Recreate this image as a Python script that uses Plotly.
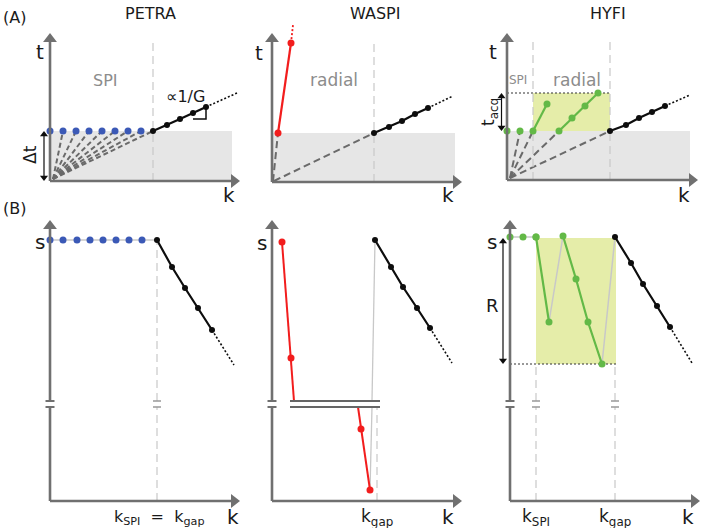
import plotly.graph_objects as go

# ---------------- data (schematic units: k horizontal, t / s vertical) ----------------
# (A) PETRA  t vs k
petra_spi_k = [0, 1.3, 2.6, 3.9, 5.2, 6.5, 7.8, 9.1]
petra_spi_t = [5.0, 5.0, 5.0, 5.0, 5.0, 5.0, 5.0, 5.0]
petra_rad_k = [10.3, 11.7, 13.0, 14.3, 15.6]
petra_rad_t = [5.0, 5.6, 6.2, 6.8, 7.4]
petra_tail_k = [15.6, 18.7]
petra_tail_t = [7.4, 8.8]
petra_kgap = 10.3
petra_dt = 5.0

# (A) WASPI
waspi_red_k = [0.6, 1.9]
waspi_red_t = [4.9, 13.9]
waspi_redtail_k = [1.9, 2.1]
waspi_redtail_t = [13.9, 15.7]
waspi_rad_k = [10.2, 11.7, 13.0, 14.3, 15.6]
waspi_rad_t = [4.9, 5.5, 6.1, 6.8, 7.4]
waspi_tail_k = [15.6, 18.1]
waspi_tail_t = [7.4, 8.6]
waspi_kgap = 10.2
waspi_dt = 4.9

# (A) HYFI
hyfi_spi_k = [0, 1.3]
hyfi_spi_t = [4.9, 4.9]
hyfi_g1_k = [2.6, 4.0]
hyfi_g1_t = [4.9, 7.6]
hyfi_g2_k = [5.2, 6.5, 7.8, 9.1]
hyfi_g2_t = [4.9, 6.2, 7.4, 8.7]
hyfi_rad_k = [10.3, 11.9, 13.2, 14.5, 15.8]
hyfi_rad_t = [4.9, 5.5, 6.2, 6.8, 7.4]
hyfi_tail_k = [15.8, 18.3]
hyfi_tail_t = [7.4, 8.5]
hyfi_kspi = 2.6
hyfi_kgap = 10.3
hyfi_dt = 4.9
hyfi_tacq = 8.7
hyfi_fan_k = [1.3, 2.6, 5.2, 10.3]

# (B) PETRA  s vs k
bpetra_spi_k = [0, 1.3, 2.7, 4.0, 5.3, 6.6, 7.9, 9.2]
bpetra_spi_s = [26.1, 26.1, 26.1, 26.1, 26.1, 26.1, 26.1, 26.1]
bpetra_rad_k = [10.7, 12.2, 13.5, 14.8, 16.2]
bpetra_rad_s = [26.1, 23.4, 21.3, 19.3, 17.1]
bpetra_tail_k = [16.2, 18.4]
bpetra_tail_s = [17.1, 13.6]
bpetra_kgap = 10.7

# (B) WASPI
bwaspi_redtop_k = [1.0, 1.9, 2.2]
bwaspi_redtop_s = [25.9, 14.3, 10.0]
bwaspi_redbot_k = [8.6, 8.9, 9.8]
bwaspi_redbot_s = [9.4, 7.2, 1.1]
bwaspi_rad_k = [10.3, 11.9, 13.1, 14.5, 15.8]
bwaspi_rad_s = [26.1, 23.4, 21.4, 19.3, 17.3]
bwaspi_tail_k = [15.8, 18.0]
bwaspi_tail_s = [17.3, 13.8]
bwaspi_kgap = 10.5

# (B) HYFI
bhyfi_spi_k = [0, 1.3, 2.6]
bhyfi_spi_s = [26.4, 26.4, 26.4]
bhyfi_g1_k = [2.6, 3.9]
bhyfi_g1_s = [26.4, 17.9]
bhyfi_j1_k = [3.9, 5.3]
bhyfi_j1_s = [17.9, 26.5]
bhyfi_g2_k = [5.3, 6.6, 7.8, 9.2]
bhyfi_g2_s = [26.5, 22.2, 17.9, 13.7]
bhyfi_j2_k = [9.2, 10.5]
bhyfi_j2_s = [13.7, 26.4]
bhyfi_rad_k = [10.5, 12.1, 13.3, 14.7, 16.0]
bhyfi_rad_s = [26.4, 23.8, 21.7, 19.5, 17.4]
bhyfi_tail_k = [16.0, 18.2]
bhyfi_tail_s = [17.4, 13.8]
bhyfi_kspi = 2.6
bhyfi_kgap = 10.5
bhyfi_smin = 13.7
bhyfi_smax = 26.3

BREAK_LO, BREAK_HI = 9.4, 10.0

# ---------------- style / layout ----------------
W, H = 709, 528
FONT = "DejaVu Sans"
AXC = "#707070"
TXT = "#1a1a1a"
GTXT = "#8c8c8c"
BLUE = "#3b59b6"
RED = "#f21d1d"
GREEN = "#63b947"
BLACK = "#0d0d0d"
SHADE = "#e6e6e6"
YEL = "#e5eda9"
LGREY = "#c8c8c8"
DASHG = "#6a6a6a"

PANELS = {1: (50, 181, 'top'), 2: (272, 182, 'top'), 3: (507, 180, 'top'),
          4: (50, 501, 'bot'), 5: (272, 501, 'bot'), 6: (510, 501, 'bot')}
XR = [-3, 19.5]
YR = {'top': [-2, 17], 'bot': [-2.5, 29]}
PX = 10

fig = go.Figure()
axes = {}
for i, (x0, y0, row) in PANELS.items():
    yr = YR[row]
    sfx = '' if i == 1 else str(i)
    axes['xaxis' + sfx] = dict(domain=[(x0 + XR[0] * PX) / W, (x0 + XR[1] * PX) / W], range=XR,
                               visible=False, anchor='y' + sfx, fixedrange=True)
    axes['yaxis' + sfx] = dict(domain=[1 - (y0 - yr[0] * PX) / H, 1 - (y0 - yr[1] * PX) / H], range=yr,
                               visible=False, anchor='x' + sfx, fixedrange=True)


def refs(i):
    return ('x' if i == 1 else f'x{i}', 'y' if i == 1 else f'y{i}')


def tr(i, k, v, color, width=2, dash='solid', markers=False, msize=7, mcolor=None, fill=None, fillcolor=None):
    xr, yr = refs(i)
    fig.add_trace(go.Scatter(x=k, y=v, xaxis=xr, yaxis=yr,
                             mode='lines+markers' if markers else 'lines',
                             line=dict(color=color, width=width, dash=dash),
                             marker=dict(size=msize, color=mcolor or color),
                             fill=fill, fillcolor=fillcolor,
                             hoverinfo='skip', showlegend=False, cliponaxis=False))


def dots(i, k, v, color, msize=7, symbol='circle'):
    xr, yr = refs(i)
    fig.add_trace(go.Scatter(x=k, y=v, xaxis=xr, yaxis=yr, mode='markers',
                             marker=dict(size=msize, color=color, symbol=symbol, line=dict(width=0)),
                             hoverinfo='skip', showlegend=False, cliponaxis=False))


def rect(i, k0, k1, v0, v1, color):
    tr(i, [k0, k1, k1, k0, k0], [v0, v0, v1, v1, v0], 'rgba(0,0,0,0)', width=0,
       fill='toself', fillcolor=color)


def segs(i, pairs, color, width, dash='solid'):
    ks, vs = [], []
    for (a, b), (c, d) in pairs:
        ks += [a, c, None]
        vs += [b, d, None]
    tr(i, ks, vs, color, width=width, dash=dash)


HEAD = 12   # arrow head marker size (px)


def x_arrow(i, kmax):
    off = HEAD / 2 / PX
    tr(i, [0, kmax - off], [0, 0], AXC, 2.6)
    dots(i, [kmax - off], [0], AXC, HEAD, 'triangle-right')


def y_arrow(i, v0, vmax):
    off = HEAD / 2 / PX
    tr(i, [0, 0], [v0, vmax - off], AXC, 2.6)
    dots(i, [0], [vmax - off], AXC, HEAD, 'triangle-up')


def dbl_arrow(i, k, v0, v1):
    hs = 7
    off = hs / 2 / PX
    tr(i, [k, k], [v0 + off, v1 - off], BLACK, 1.2)
    dots(i, [k], [v0 + off], BLACK, hs, 'triangle-down')
    dots(i, [k], [v1 - off], BLACK, hs, 'triangle-up')


def label(i, k, v, text, size, color=TXT, angle=0):
    xr, yr = refs(i)
    fig.add_annotation(x=k, y=v, xref=xr, yref=yr, text=text, showarrow=False, textangle=angle,
                       xanchor='center', yanchor='middle',
                       font=dict(family=FONT, size=size, color=color))


def plabel(px, py, text, size, color=TXT):
    fig.add_annotation(x=px / W, y=1 - py / H, xref='paper', yref='paper', text=text, showarrow=False,
                       xanchor='center', yanchor='middle',
                       font=dict(family=FONT, size=size, color=color))


FAN_DASH = "5px,3px"
VDASH = "8px,5px"

# ================= (A) PETRA =================
rect(1, 0, 18.2, 0, petra_dt, SHADE)
segs(1, [((0.3, 0.2), (k, petra_dt)) for k in petra_spi_k[1:] + [petra_kgap]], DASHG, 2, FAN_DASH)
tr(1, [petra_kgap, petra_kgap], [0, 14.1], LGREY, 1.2, VDASH)
tr(1, petra_tail_k, petra_tail_t, BLACK, 1.6, "2px,2px")
tr(1, petra_rad_k, petra_rad_t, BLACK, 2.2, markers=True, msize=6)
tr(1, [petra_rad_k[3], petra_rad_k[4], petra_rad_k[4]], [petra_rad_t[2], petra_rad_t[2], petra_rad_t[4]], BLACK, 1.5)
dots(1, petra_spi_k, petra_spi_t, BLUE, 7)
x_arrow(1, 19)
y_arrow(1, 0, 14.8)
dbl_arrow(1, -0.6, 0, petra_dt)
label(1, -2.0, 2.6, "Δt", 17, angle=-90)
label(1, -1.0, 12.9, "t", 20)
label(1, 17.9, -1.4, "k", 20)
label(1, 5.5, 10.1, "SPI", 16, GTXT)
label(1, 13.5, 8.5, "∝1/G", 16)

# ================= (A) WASPI =================
rect(2, 0, 18.3, 0, waspi_dt, SHADE)
segs(2, [((0.1, 0.1), (waspi_red_k[0], waspi_dt)), ((0.2, 0.1), (waspi_kgap, waspi_dt))], DASHG, 2, "7px,4px")
tr(2, [waspi_kgap, waspi_kgap], [0, 14.2], LGREY, 1.2, VDASH)
tr(2, waspi_redtail_k, waspi_redtail_t, RED, 1.8, "2px,2px")
tr(2, waspi_red_k, waspi_red_t, RED, 2.2, markers=True, msize=7)
tr(2, waspi_tail_k, waspi_tail_t, BLACK, 1.6, "2px,2px")
tr(2, waspi_rad_k, waspi_rad_t, BLACK, 2.2, markers=True, msize=6)
x_arrow(2, 19)
y_arrow(2, 0, 14.9)
label(2, -1.3, 12.9, "t", 20)
label(2, 17.6, -1.3, "k", 20)
label(2, 6.2, 10.2, "radial", 17, GTXT)

# ================= (A) HYFI =================
rect(3, 0, 18.3, 0, hyfi_dt, SHADE)
rect(3, hyfi_kspi, hyfi_kgap, hyfi_dt, hyfi_tacq, YEL)
segs(3, [((0.3, 0.2), (k, hyfi_dt)) for k in hyfi_fan_k], DASHG, 2, "7px,4px")
tr(3, [hyfi_kspi, hyfi_kspi], [0, 14.2], LGREY, 1.2, VDASH)
tr(3, [hyfi_kgap, hyfi_kgap], [0, 14.2], LGREY, 1.2, VDASH)
tr(3, [0, hyfi_kgap], [hyfi_tacq, hyfi_tacq], "#333333", 1.2, "2px,2px")
tr(3, hyfi_g1_k, hyfi_g1_t, GREEN, 2.2, markers=True, msize=7)
tr(3, hyfi_g2_k, hyfi_g2_t, GREEN, 2.2, markers=True, msize=7)
dots(3, hyfi_spi_k, hyfi_spi_t, GREEN, 7)
tr(3, hyfi_tail_k, hyfi_tail_t, BLACK, 1.6, "2px,2px")
tr(3, hyfi_rad_k, hyfi_rad_t, BLACK, 2.2, markers=True, msize=6)
x_arrow(3, 19.1)
y_arrow(3, 0, 14.7)
dbl_arrow(3, -0.55, hyfi_dt, hyfi_tacq)
label(3, -1.7, 6.8, "t<sub>acq</sub>", 17, angle=-90)
label(3, -1.4, 12.8, "t", 20)
label(3, 17.7, -1.5, "k", 20)
label(3, 1.1, 10.0, "SPI", 12, GTXT)
label(3, 7.0, 10.0, "radial", 17, GTXT)


def yaxis_break(i):
    x_arrow(i, 19)
    tr(i, [0, 0], [0, BREAK_LO], AXC, 2.6)
    y_arrow(i, BREAK_HI, 28.1)
    segs(i, [((-0.45, BREAK_LO), (0.45, BREAK_LO)), ((-0.45, BREAK_HI), (0.45, BREAK_HI))], AXC, 2)


def vbreak(i, k, top):
    tr(i, [k, k], [0, BREAK_LO], LGREY, 1.2, VDASH)
    tr(i, [k, k], [BREAK_HI, top], LGREY, 1.2, VDASH)
    segs(i, [((k - 0.4, BREAK_LO), (k + 0.4, BREAK_LO)), ((k - 0.4, BREAK_HI), (k + 0.4, BREAK_HI))], "#999999", 1.5)


# ================= (B) PETRA =================
vbreak(4, bpetra_kgap, bpetra_spi_s[0])
tr(4, [0, bpetra_kgap], [bpetra_spi_s[0], bpetra_spi_s[0]], LGREY, 1.5)
tr(4, bpetra_tail_k, bpetra_tail_s, BLACK, 1.6, "2px,2px")
tr(4, bpetra_rad_k, bpetra_rad_s, BLACK, 2.2, markers=True, msize=6)
dots(4, bpetra_spi_k, bpetra_spi_s, BLUE, 7)
yaxis_break(4)
label(4, -1.0, 25.9, "s", 20)
label(4, 18.3, -1.6, "k", 20)
label(4, 10.9, -1.6, "k<sub>SPI</sub>  =  k<sub>gap</sub>", 16)

# ================= (B) WASPI =================
tr(5, [bwaspi_kgap, bwaspi_kgap], [0, BREAK_LO], LGREY, 1.2, VDASH)
tr(5, [bwaspi_rad_k[0], 10.0], [bwaspi_rad_s[0], BREAK_HI], LGREY, 1.3)
tr(5, [10.0, bwaspi_redbot_k[-1]], [BREAK_LO, bwaspi_redbot_s[-1]], LGREY, 1.3)
tr(5, bwaspi_redtop_k, bwaspi_redtop_s, RED, 2)
dots(5, bwaspi_redtop_k[:2], bwaspi_redtop_s[:2], RED, 7)
tr(5, bwaspi_redbot_k, bwaspi_redbot_s, RED, 2)
dots(5, bwaspi_redbot_k[1:], bwaspi_redbot_s[1:], RED, 7)
segs(5, [((1.8, BREAK_LO), (10.8, BREAK_LO)), ((1.8, BREAK_HI), (10.8, BREAK_HI))], "#666666", 2.2)
tr(5, bwaspi_tail_k, bwaspi_tail_s, BLACK, 1.6, "2px,2px")
tr(5, bwaspi_rad_k, bwaspi_rad_s, BLACK, 2.2, markers=True, msize=6)
yaxis_break(5)
label(5, -1.0, 25.8, "s", 20)
label(5, 17.6, -1.6, "k", 20)
label(5, 10.5, -1.6, "k<sub>gap</sub>", 17)

# ================= (B) HYFI =================
rect(6, bhyfi_kspi, 10.6, bhyfi_smin, bhyfi_smax, YEL)
vbreak(6, bhyfi_kspi, bhyfi_smin)
vbreak(6, bhyfi_kgap, bhyfi_smin)
tr(6, [0, 10.6], [bhyfi_smin, bhyfi_smin], "#333333", 1.2, "2px,2px")
tr(6, bhyfi_spi_k, bhyfi_spi_s, LGREY, 1.5)
tr(6, bhyfi_j1_k, bhyfi_j1_s, LGREY, 1.5)
tr(6, bhyfi_j2_k, bhyfi_j2_s, LGREY, 1.5)
tr(6, bhyfi_g1_k, bhyfi_g1_s, GREEN, 2.2, markers=True, msize=7)
tr(6, bhyfi_g2_k, bhyfi_g2_s, GREEN, 2.2, markers=True, msize=7)
dots(6, bhyfi_spi_k, bhyfi_spi_s, GREEN, 7)
tr(6, bhyfi_tail_k, bhyfi_tail_s, BLACK, 1.6, "2px,2px")
tr(6, bhyfi_rad_k, bhyfi_rad_s, BLACK, 2.2, markers=True, msize=6)
yaxis_break(6)
dbl_arrow(6, -0.7, bhyfi_smin, bhyfi_smax)
label(6, -1.7, 19.6, "R", 18)
label(6, -1.8, 25.9, "s", 20)
label(6, 17.8, -1.6, "k", 20)
label(6, bhyfi_kspi, -1.6, "k<sub>SPI</sub>", 17)
label(6, bhyfi_kgap, -1.6, "k<sub>gap</sub>", 17)

# titles and panel letters
plabel(150, 13, "PETRA", 16)
plabel(375, 13, "WASPI", 16)
plabel(608, 13, "HYFI", 16)
plabel(14, 18, "(A)", 16)
plabel(14, 209, "(B)", 16)

fig.update_layout(width=W, height=H, margin=dict(l=0, r=0, t=0, b=0),
                  paper_bgcolor="white", plot_bgcolor="rgba(0,0,0,0)",
                  showlegend=False, hovermode=False, **axes)
fig.write_html("out.html", config={"displayModeBar": False, "staticPlot": True},
               post_script="document.body.style.margin='0';document.body.style.overflow='hidden';")
